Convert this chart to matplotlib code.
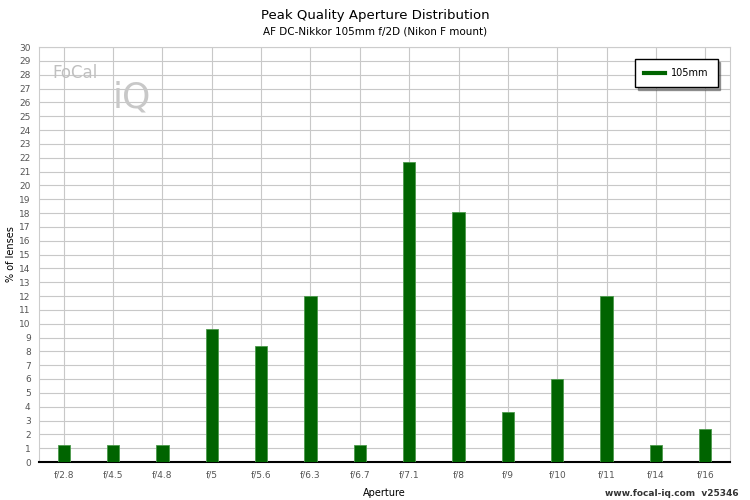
import matplotlib
matplotlib.use("Agg")
import matplotlib.pyplot as plt
import numpy as np

categories = ["f/2.8","f/4.5","f/4.8","f/5","f/5.6","f/6.3","f/6.7","f/7.1","f/8","f/9","f/10","f/11","f/14","f/16"]
values = [1.2,1.2,1.2,9.6,8.4,12.0,1.2,21.7,18.1,3.6,6.0,12.0,1.2,2.4]

fig = plt.figure(figsize=(7.5,5), dpi=100)
ax = fig.add_axes([39/750, 38/500, 691/750, 415/500])
x = np.arange(len(categories))
ax.bar(x, values, width=0.25, color="#006400", edgecolor="#4c9a4c", linewidth=0.6, zorder=3, label="105mm")
ax.set_xlim(-0.5, len(categories)-0.5)
ax.set_ylim(0, 30)
ax.set_yticks(range(0,31))
ax.set_xticks(x)
ax.set_xticklabels(categories)
ax.tick_params(labelsize=6.5, colors="#555555", length=0, pad=6)
ax.grid(True, color="#c8c8c8", linewidth=0.8, zorder=0)
for s in ["top","right"]:
    ax.spines[s].set_color("#cccccc")
ax.spines["left"].set_color("#cccccc")
ax.spines["bottom"].set_color("black")
ax.spines["bottom"].set_linewidth(1.5)
ax.set_xlabel("Aperture", fontsize=7, labelpad=6)
ax.set_ylabel("% of lenses", fontsize=7, labelpad=2)
fig.text(0.5, 0.962, "Peak Quality Aperture Distribution", ha="center", fontsize=9.5)
fig.text(0.5, 0.93, "AF DC-Nikkor 105mm f/2D (Nikon F mount)", ha="center", fontsize=7.5)
fig.text(0.985, 0.008, "www.focal-iq.com  v25346", ha="right", fontsize=6.5, weight="bold", color="#333333")
fig.text(52/750, 1-78/500, "FoCal", fontsize=12, color="#c0c0c0")
fig.text(113/750, 1-108/500, "iQ", fontsize=26, color="#c8c8c8")
leg = ax.legend(handles=[plt.Line2D([0],[0], color="#006400", lw=3)], labels=["105mm"],
                loc="upper right", bbox_to_anchor=(0.982, 0.97), fontsize=7, fancybox=False,
                edgecolor="black", framealpha=1, shadow=True, handlelength=2.2,
                borderpad=0.9, handletextpad=0.6, borderaxespad=0)
fig.savefig("out.png")
